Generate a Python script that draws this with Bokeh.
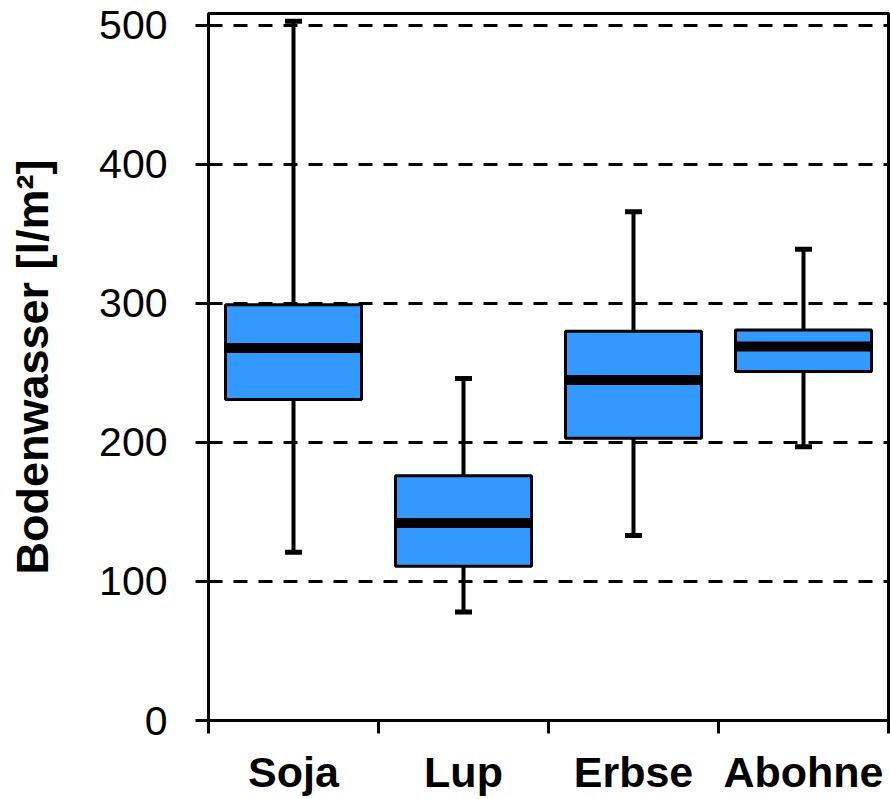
from bokeh.plotting import figure
from bokeh.models import Range1d, FixedTicker, ColumnDataSource
from bokeh.embed import file_html
from bokeh.resources import INLINE

categories = ["Soja", "Lup", "Erbse", "Abohne"]
whisker_low = [121, 78, 133, 197]
q1 = [231, 111, 203, 251]
median = [268, 142, 245, 269]
q3 = [299, 176, 280, 281]
whisker_high = [503, 246, 366, 339]
y_ticks = [0, 100, 200, 300, 400, 500]

FONT = "Liberation Sans"
BLUE = "#3399FF"

xc = [i + 0.5 for i in range(len(categories))]
box_w = 0.8
cap_w = 0.1

src = ColumnDataSource(dict(
    x=xc, lo=whisker_low, q1=q1, med=median, q3=q3, hi=whisker_high,
    bl=[x - box_w / 2 for x in xc], br=[x + box_w / 2 for x in xc],
    cl=[x - cap_w / 2 for x in xc], cr=[x + cap_w / 2 for x in xc],
))

p = figure(width=890, height=799, output_backend="svg", toolbar_location=None,
           x_range=Range1d(0, len(categories)), y_range=Range1d(0, 508.6),
           min_border_left=208, min_border_right=2, min_border_top=13, min_border_bottom=79)
p.background_fill_color = "white"
p.border_fill_color = "white"
p.outline_line_color = "black"
p.outline_line_width = 3

# whiskers
p.segment(x0="x", y0="q3", x1="x", y1="hi", source=src, line_color="black", line_width=4)
p.segment(x0="x", y0="lo", x1="x", y1="q1", source=src, line_color="black", line_width=4)
# caps
p.segment(x0="cl", y0="hi", x1="cr", y1="hi", source=src, line_color="black", line_width=5)
p.segment(x0="cl", y0="lo", x1="cr", y1="lo", source=src, line_color="black", line_width=5)
# boxes
p.vbar(x="x", width=box_w, bottom="q1", top="q3", source=src,
       fill_color=BLUE, line_color="black", line_width=3)
# median
p.segment(x0="bl", y0="med", x1="br", y1="med", source=src, line_color="black", line_width=10)

# x axis
xa = p.xaxis[0]
xa.ticker = FixedTicker(ticks=xc, minor_ticks=list(range(len(categories) + 1)))
xa.major_label_overrides = {x: c for x, c in zip(xc, categories)}
xa.major_tick_line_color = None
xa.major_tick_out = 13
xa.minor_tick_out = 13
xa.minor_tick_in = 0
xa.minor_tick_line_width = 3
xa.minor_tick_line_color = "black"
xa.axis_line_width = 3
xa.axis_line_color = "black"
xa.major_label_text_font = FONT
xa.major_label_text_font_style = "bold"
xa.major_label_text_font_size = "43px"
xa.major_label_text_color = "black"
xa.major_label_standoff = 14

# y axis
ya = p.yaxis[0]
ya.ticker = FixedTicker(ticks=y_ticks, minor_ticks=[])
ya.major_tick_out = 13
ya.major_tick_in = 0
ya.major_tick_line_width = 3
ya.major_tick_line_color = "black"
ya.axis_line_width = 3
ya.axis_line_color = "black"
ya.major_label_text_font = FONT
ya.major_label_text_font_size = "41px"
ya.major_label_text_color = "black"
ya.major_label_standoff = 28
ya.axis_label = "Bodenwasser [l/m²]"
ya.axis_label_text_font = FONT
ya.axis_label_text_font_style = "bold"
ya.axis_label_text_font_size = "45px"
ya.axis_label_text_color = "black"
ya.axis_label_standoff = 38

p.xgrid.grid_line_color = None
p.ygrid.ticker = FixedTicker(ticks=y_ticks)
p.ygrid.grid_line_color = "black"
p.ygrid.grid_line_width = 3
p.ygrid.grid_line_dash = "14 11"

open("out.html", "w").write(file_html(p, INLINE))
